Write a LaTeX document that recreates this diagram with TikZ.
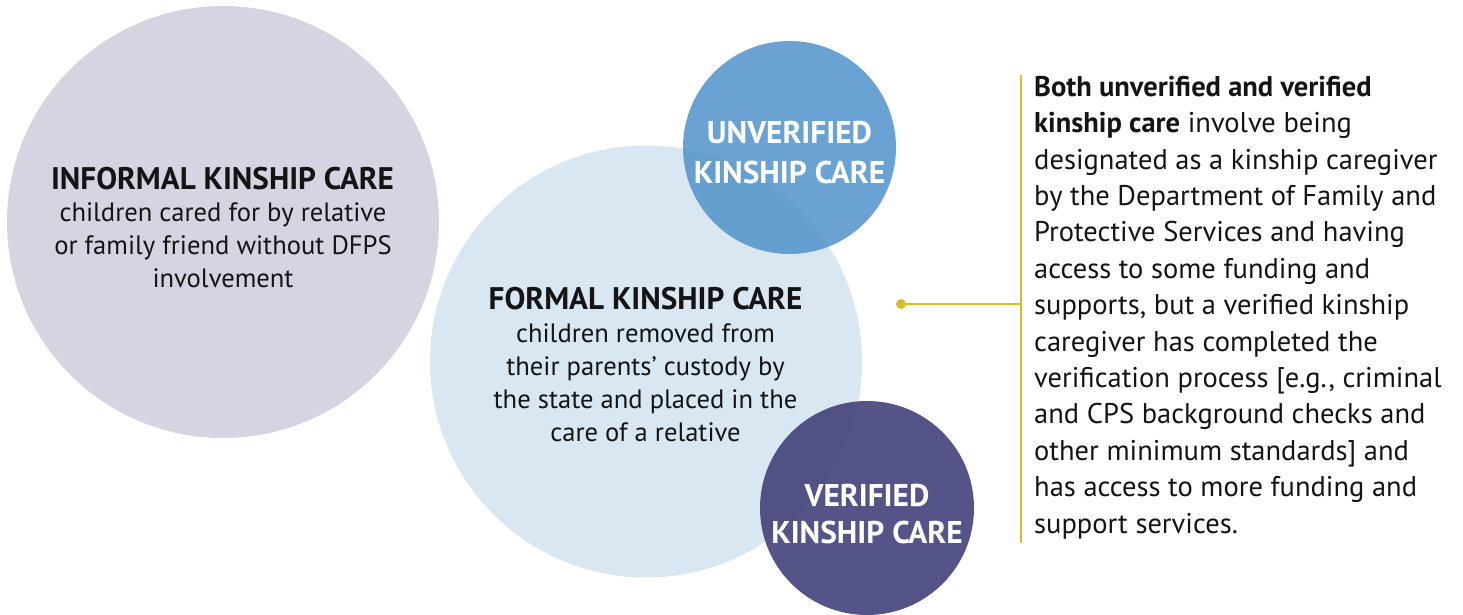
\documentclass[tikz,border=0pt]{standalone}
\usepackage{fontspec}
\setmainfont{PT Sans}
\definecolor{informalfill}{RGB}{213,212,225}
\definecolor{formalfill}{RGB}{217,231,243}
\definecolor{unverifiedfill}{RGB}{80,147,203}
\definecolor{verifiedfill}{RGB}{67,65,123}
\definecolor{gold}{RGB}{212,190,42}
\definecolor{ink}{RGB}{20,20,20}
\begin{document}
\begin{tikzpicture}[x=1pt,y=-1pt,
  disc/.style={circle, inner sep=0pt, minimum size=#1},
  % multi-line nodes below are anchored on the baseline of their last line
  heading/.style={anchor=base, inner sep=0pt, text=ink, font=\fontsize{31.2}{33}\selectfont\bfseries},
  bodytext/.style={anchor=base, inner sep=0pt, text=ink, align=center, font=\fontsize{26.6}{33}\selectfont},
  disclabel/.style={anchor=base, inner sep=0pt, text=white, font=\fontsize{31.4}{38}\selectfont\bfseries},
  leader/.style={draw=gold, line width=2.5pt}
]
\useasboundingbox (0,0) rectangle (1463,615);

% the four circles
\node[disc=432pt, fill=informalfill] (informal) at (223,222) {};
\node[disc=432pt, fill=formalfill] (formal) at (646,361.5) {};
\node[disc=213pt, fill=unverifiedfill, fill opacity=0.85] (unverified) at (789.5,147.5) {};
\node[disc=214pt, fill=verifiedfill, fill opacity=0.9] (verified) at (867,508) {};

% informal kinship care
\node[heading] (informalTitle) at (222.5,189) {INFORMAL KINSHIP CARE};
\node[bodytext] (informalText) at (223,287) {children cared for by relative\\or family friend without DFPS\\involvement};

% formal kinship care
\node[heading] (formalTitle) at (645.5,309) {FORMAL KINSHIP CARE};
\node[bodytext] (formalText) at (645.5,441) {children removed from\\their parents’ custody by\\the state and placed in the\\care of a relative};

% small circles
\node[disclabel] (unverifiedA) at (789.5,143) {UNVERIFIED};
\node[disclabel] (unverifiedB) at (789.5,183) {KINSHIP CARE};
\node[disclabel] (verifiedA) at (867,506) {VERIFIED};
\node[disclabel] (verifiedB) at (867,543) {KINSHIP CARE};

% leader to the note
\node[circle, fill=gold, inner sep=0pt, minimum size=10pt] (dot) at (901,304) {};
\coordinate (joint) at (1021,304);
\coordinate (barTop) at (1021,75);
\coordinate (barBottom) at (1021,543);
\draw[leader] (dot.center) -- (joint);
\draw[leader] (barTop) -- (barBottom);

% note
\node[anchor=base west, inner sep=0pt, text=ink, align=left, font=\fontsize{28.5}{36.4}\selectfont] (note) at (1034,533)
{\textbf{Both unverified and verified}\\
\textbf{kinship care} involve being\\
designated as a kinship caregiver\\
by the Department of Family and\\
Protective Services and having\\
access to some funding and\\
supports, but a verified kinship\\
caregiver has completed the\\
verification process [e.g., criminal\\
and CPS background checks and\\
other minimum standards] and\\
has access to more funding and\\
support services.};
\end{tikzpicture}
\end{document}
